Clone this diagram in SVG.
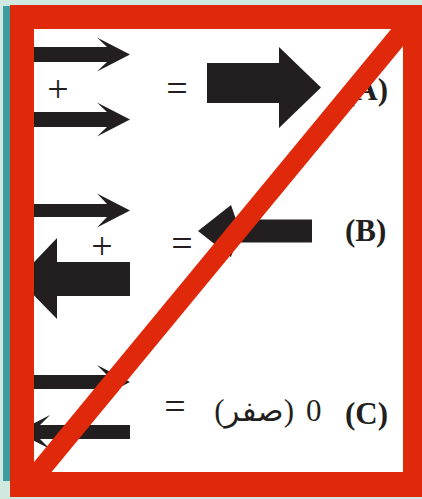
<svg xmlns="http://www.w3.org/2000/svg" width="422" height="499" viewBox="0 0 422 499">
<style>
.arr{fill:#231f20}
.sym{font-family:"Liberation Serif","Times New Roman",serif;font-size:38px;fill:#231f20;text-anchor:middle}
.lbl{font-family:"Liberation Serif","Times New Roman",serif;font-size:31px;font-weight:bold;fill:#231f20}
.val{font-family:"Liberation Serif","DejaVu Sans",serif;font-size:31px;fill:#231f20}
</style>
<defs>
<clipPath id="frameClip"><rect x="10" y="5" width="412" height="492"/></clipPath>
</defs>
<rect width="422" height="499" fill="#cfe9e1"/>
<rect x="3" y="6" width="8" height="475" fill="#3c9c9e"/>
<rect x="34" y="29" width="369" height="443" fill="#ffffff"/>
<g id="rowA">
<g id="arrowA1"><path class="arr" d="M20,47 H107 L97,37.5 L130,54.5 L97,71.5 L107,62 H20 Z"/></g>
<g id="plusA"><text class="sym" x="58" y="102">+</text></g>
<g id="arrowA2"><path class="arr" d="M20,112 H107 L97,102.5 L130,119.5 L97,136.5 L107,127 H20 Z"/></g>
<g id="eqA"><text class="sym" x="177" y="101">=</text></g>
<g id="resultA"><path class="arr" d="M207,63 H279 V47 L321,87.5 L279,128 V103 H207 Z"/></g>
<g id="labelA"><text class="lbl" x="345" y="100">(A)</text></g>
</g>
<g id="rowB">
<g id="arrowB1"><path class="arr" d="M20,204 H107 L97,193.5 L130,210.5 L97,227.5 L107,217 H20 Z"/></g>
<g id="plusB"><text class="sym" x="102" y="259">+</text></g>
<g id="arrowB2"><path class="arr" d="M18,279 L57,238 V262 H130 V296 H57 V319 Z"/></g>
<g id="eqB"><text class="sym" x="182" y="256">=</text></g>
<g id="resultB"><path class="arr" d="M198,231 L231,205 L236,219.5 H312 V242.5 H236 L231,257 Z"/></g>
<g id="labelB"><text class="lbl" x="345" y="241">(B)</text></g>
</g>
<g id="rowC">
<g id="arrowC1"><path class="arr" d="M20,375 H107 L97,365 L130,382 L97,399 L107,389 H20 Z"/></g>
<g id="arrowC2"><path class="arr" d="M17,432 L50,415 L40,425 H130 V439 H40 L50,449 Z"/></g>
<g id="eqC"><text class="sym" x="175" y="419">=</text></g>
<g id="resultC"><text class="val" x="294" y="421" text-anchor="end">(صفر)</text><text class="val" x="306" y="421">0</text></g>
<g id="labelC"><text class="lbl" x="345" y="424">(C)</text></g>
</g>
<g id="connectors"/>
<g id="frame">
<path fill="#e0290b" fill-rule="evenodd" d="M10,5 H422 V497 H10 Z M34,29 V472 H403 V29 Z"/>
</g>
<g id="slash" clip-path="url(#frameClip)">
<line x1="18" y1="497" x2="424" y2="5" stroke="#e0290b" stroke-width="20"/>
</g>
</svg>
